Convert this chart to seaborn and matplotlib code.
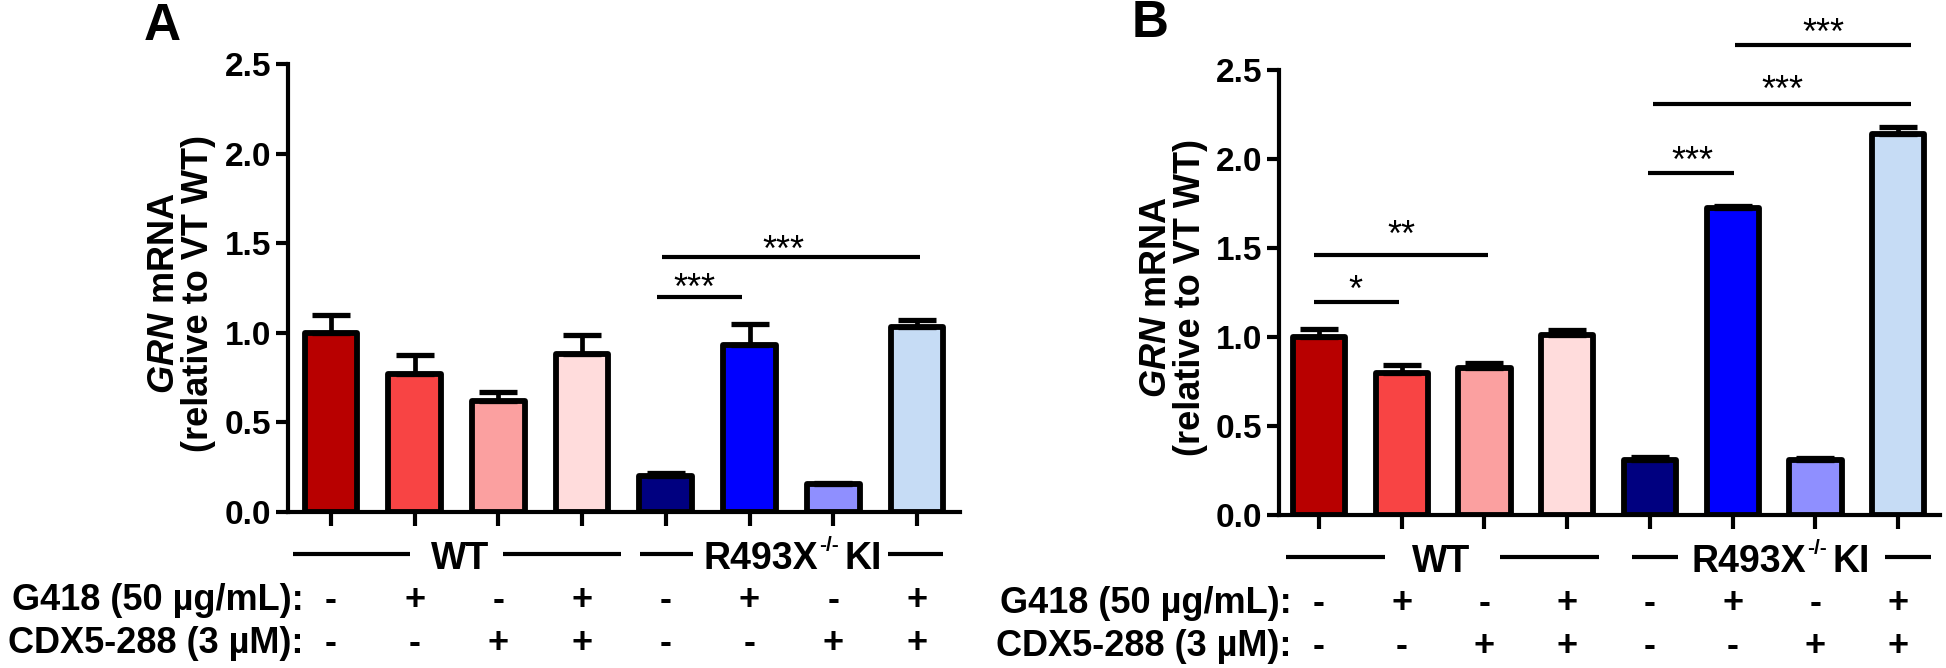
import numpy as np
import pandas as pd
import matplotlib
matplotlib.use("Agg")
import matplotlib.pyplot as plt
import seaborn as sns
from matplotlib.transforms import blended_transform_factory, IdentityTransform
from matplotlib.lines import Line2D

# ---------------- data ----------------
conditions = ["WT VT", "WT G418", "WT CDX", "WT G418+CDX",
              "KI VT", "KI G418", "KI CDX", "KI G418+CDX"]
bar_colors = ["#B80000", "#F84444", "#FBA0A0", "#FFDCDC",
              "#000080", "#0000FF", "#8F8FFF", "#C6DCF5"]
mean_A = [1.00, 0.77, 0.62, 0.88, 0.20, 0.93, 0.155, 1.035]
sem_A = [0.10, 0.105, 0.05, 0.11, 0.015, 0.12, 0.005, 0.035]
mean_B = [1.00, 0.80, 0.825, 1.01, 0.31, 1.725, 0.31, 2.14]
sem_B = [0.045, 0.04, 0.028, 0.027, 0.015, 0.012, 0.008, 0.04]
g418_row = ["-", "+", "-", "+", "-", "+", "-", "+"]
cdx_row = ["-", "-", "+", "+", "-", "-", "+", "+"]
row_labels = ["G418 (50 µg/mL):", "CDX5-288 (3 µM):"]
group_labels = ["WT", ("R493X", "-/-", "KI")]
yticks = [0.0, 0.5, 1.0, 1.5, 2.0, 2.5]
panel_labels = ["A", "B"]
# significance: (x_start, x_end, y_line, label, x_text, y_text_baseline)
sig_A = [(3.895, 4.91, 1.20, "***", 4.34, 1.19),
         (3.95, 7.04, 1.423, "***", 5.41, 1.40)]
sig_B = [(-0.06, 0.966, 1.197, "*", 0.44, 1.20),
         (-0.06, 2.04, 1.46, "**", 1.0, 1.514),
         (3.976, 5.015, 1.92, "***", 4.51, 1.93),
         (4.04, 7.15, 2.31, "***", 5.60, 2.326),
         (5.03, 7.15, 2.64, "***", 6.09, 2.646)]

# ---------------- style ----------------
sns.set_style("ticks")
plt.rcParams["font.family"] = ["Liberation Sans", "DejaVu Sans"]
plt.rcParams["font.weight"] = "bold"
plt.rcParams["mathtext.fontset"] = "custom"
plt.rcParams["mathtext.rm"] = "Liberation Sans:bold"
plt.rcParams["mathtext.bf"] = "Liberation Sans:bold"
plt.rcParams["mathtext.it"] = "Liberation Sans:italic:bold"
for k in ["text.color", "axes.edgecolor", "axes.labelcolor", "xtick.color", "ytick.color"]:
    plt.rcParams[k] = "black"

W, H = 1946, 668
fig = plt.figure(figsize=(W / 100, H / 100), dpi=100)


def add_axes_px(l, t, r, b):
    return fig.add_axes([l / W, 1 - b / H, (r - l) / W, (b - t) / H])


def Y(ypx):
    return H - ypx


panels = [
    dict(rect=(288, 64, 960, 512), xlim=(-0.514, 7.515), means=mean_A, sems=sem_A,
         sig=sig_A, label_xy=(162, 40), dy=0,
         grp_lines=[(-0.45, 0.94), (2.05, 3.46), (3.69, 4.32), (6.65, 7.31)],
         grp_text_x=[1.54, 5.48], ki_left=703),
    dict(rect=(1279, 70, 1940, 515), xlim=(-0.483, 7.505), means=mean_B, sems=sem_B,
         sig=sig_B, label_xy=(1150, 37), dy=3,
         grp_lines=[(-0.40, 0.80), (2.19, 3.38), (3.78, 4.34), (6.84, 7.40)],
         grp_text_x=[1.47, 5.62], ki_left=1691),
]

LW = 4.2
FS = 26
for i, p in enumerate(panels):
    ax = add_axes_px(*p["rect"])
    df = pd.DataFrame({"cond": conditions, "val": p["means"]})
    sns.barplot(data=df, x="cond", y="val", hue="cond", palette=bar_colors,
                order=conditions, hue_order=conditions, legend=False, ax=ax,
                width=0.63, edgecolor="black", linewidth=LW, saturation=1,
                errorbar=None)
    for patch in ax.patches:
        patch.set_joinstyle("round")
    xs = np.arange(len(conditions))
    ax.errorbar(xs, p["means"], yerr=[np.zeros(len(xs)), p["sems"]], fmt="none",
                ecolor="black", elinewidth=3.4, capsize=14, capthick=3.8, zorder=3)
    ax.set_xlim(*p["xlim"])
    ax.set_ylim(0, 2.5)
    ax.set_yticks(yticks)
    ax.set_yticklabels([f"{v:.1f}" for v in yticks], fontsize=24, fontweight="bold")
    ax.set_xticks(xs)
    ax.set_xticklabels([""] * len(xs))
    ax.set_xlabel("")
    ax.set_ylabel("")
    sns.despine(ax=ax)
    for s in ["left", "bottom"]:
        ax.spines[s].set_linewidth(3)
    ax.tick_params(axis="y", direction="out", length=9, width=3, pad=3)
    ax.tick_params(axis="x", direction="out", length=10, width=3)

    l, t, r, b = p["rect"]
    dy = p["dy"]
    tr = blended_transform_factory(ax.transData, IdentityTransform())

    # y label (two lines)
    ax.text(l - 123, Y((t + b) / 2 + 5), r"$\mathit{GRN}$ mRNA", transform=IdentityTransform(),
            rotation=90, ha="center", va="center", fontsize=FS, fontweight="bold")
    ax.text(l - 89, Y((t + b) / 2 + 5), "(relative to VT WT)", transform=IdentityTransform(),
            rotation=90, ha="center", va="center", fontsize=FS, fontweight="bold")

    # treatment rows
    for j, (c1, c2) in enumerate(zip(g418_row, cdx_row)):
        ax.text(j, Y(610 + dy), c1, transform=tr, ha="center", va="baseline",
                fontsize=FS, fontweight="bold")
        ax.text(j, Y(653 + dy), c2, transform=tr, ha="center", va="baseline",
                fontsize=FS, fontweight="bold")
    ax.text(-0.33, Y(610 + dy), row_labels[0], transform=tr, ha="right", va="baseline",
            fontsize=FS, fontweight="bold")
    ax.text(-0.33, Y(653 + dy), row_labels[1], transform=tr, ha="right", va="baseline",
            fontsize=FS, fontweight="bold")

    # group lines + labels
    for (x0, x1) in p["grp_lines"]:
        ax.add_line(Line2D([x0, x1], [Y(554 + dy), Y(554 + dy)], transform=tr,
                           color="black", lw=3, clip_on=False, solid_capstyle="butt"))
    ax.text(p["grp_text_x"][0], Y(569 + dy), group_labels[0], transform=tr, ha="center",
            va="baseline", fontsize=FS + 1, fontweight="bold")
    base, sup, tail = group_labels[1]
    t1 = ax.text(p["ki_left"], Y(569 + dy), base, transform=IdentityTransform(),
                 ha="left", va="baseline", fontsize=FS + 1, fontweight="bold")
    t2 = ax.annotate(sup, xy=(1, 0.62), xycoords=t1, xytext=(1, 0),
                     textcoords="offset points", ha="left", va="bottom",
                     fontsize=15, fontweight="bold")
    ax.annotate(tail, xy=(1, 0), xycoords=(t2, t1), xytext=(4, 0),
                textcoords="offset points", ha="left", va="bottom",
                fontsize=FS + 1, fontweight="bold")

    # significance annotations
    for (x0, x1, yl, lab, xt, yt) in p["sig"]:
        ax.plot([x0, x1], [yl, yl], color="black", lw=3, clip_on=False,
                solid_capstyle="butt")
        ax.text(xt, yt, lab, ha="center", va="baseline", fontsize=26,
                fontweight="normal", clip_on=False)

    fig.text(p["label_xy"][0] / W, 1 - p["label_xy"][1] / H, panel_labels[i],
             ha="center", va="baseline", fontsize=37, fontweight="bold")

fig.savefig("out.png", dpi=100)
